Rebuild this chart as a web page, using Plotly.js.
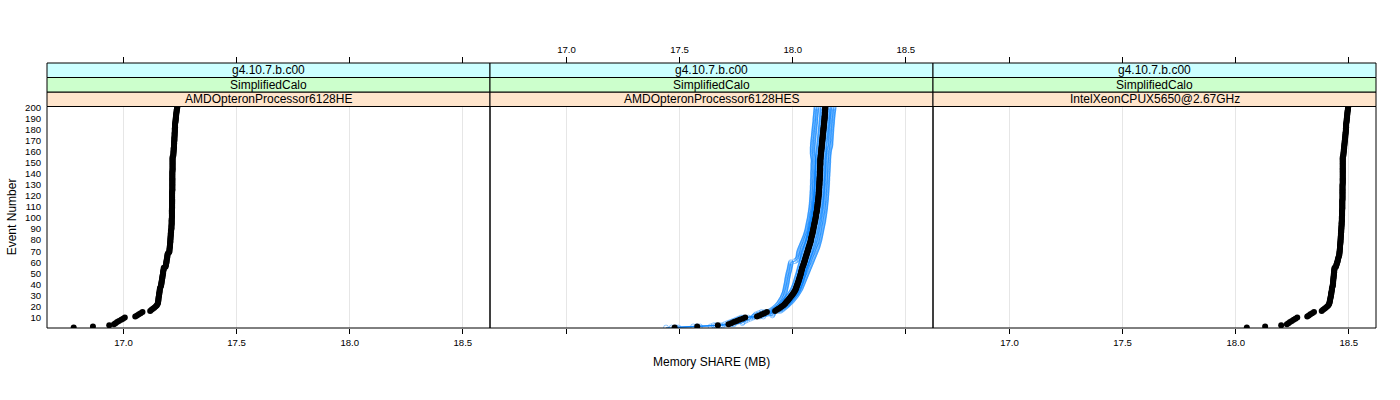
<!DOCTYPE html>
<html>
<head>
<meta charset="utf-8">
<script src="https://cdn.plot.ly/plotly-3.0.1.min.js"></script>
<style>html,body{margin:0;padding:0;background:#fff;}#chart{width:1400px;height:400px;}</style>
</head>
<body>
<div id="chart"></div>
<script>
// ---------- data ----------
const panelVersion = ["g4.10.7.b.c00", "g4.10.7.b.c00", "g4.10.7.b.c00"];
const panelConfig = ["SimplifiedCalo", "SimplifiedCalo", "SimplifiedCalo"];
const panelCpu = ["AMDOpteronProcessor6128HE", "AMDOpteronProcessor6128HES", "IntelXeonCPUX5650@2.67GHz"];
const xTickVals = [17.0, 17.5, 18.0, 18.5];
const xTickText = ["17.0", "17.5", "18.0", "18.5"];
const yTickVals = [10,20,30,40,50,60,70,80,90,100,110,120,130,140,150,160,170,180,190,200];

const events = Array.from({length: 200}, (_, i) => i + 1);

const memAmdHE = [
16.780,16.865,16.937,16.958,16.965,16.972,16.980,16.990,16.998,17.006,
17.052,17.060,17.068,17.076,17.084,17.118,17.124,17.130,17.136,17.142,
17.147,17.150,17.152,17.153,17.154,17.154,17.155,17.155,17.156,17.157,
17.158,17.158,17.159,17.160,17.160,17.161,17.162,17.165,17.166,17.167,
17.168,17.168,17.169,17.170,17.171,17.172,17.172,17.173,17.174,17.175,
17.175,17.176,17.177,17.178,17.178,17.186,17.187,17.188,17.189,17.190,
17.190,17.191,17.192,17.193,17.194,17.194,17.195,17.196,17.202,17.203,
17.203,17.204,17.204,17.205,17.205,17.206,17.206,17.207,17.207,17.207,
17.208,17.208,17.208,17.209,17.209,17.209,17.210,17.210,17.210,17.212,
17.212,17.212,17.212,17.213,17.213,17.213,17.213,17.213,17.213,17.214,
17.214,17.214,17.214,17.214,17.214,17.214,17.214,17.214,17.215,17.215,
17.215,17.215,17.215,17.215,17.215,17.215,17.215,17.215,17.215,17.215,
17.215,17.215,17.215,17.215,17.216,17.216,17.216,17.216,17.216,17.216,
17.216,17.216,17.216,17.216,17.216,17.216,17.216,17.216,17.216,17.216,
17.216,17.216,17.217,17.217,17.217,17.217,17.217,17.217,17.217,17.217,
17.217,17.217,17.217,17.217,17.217,17.220,17.220,17.221,17.221,17.221,
17.222,17.222,17.222,17.223,17.223,17.223,17.224,17.224,17.224,17.225,
17.225,17.225,17.225,17.226,17.226,17.226,17.226,17.227,17.227,17.227,
17.227,17.228,17.228,17.228,17.228,17.229,17.230,17.230,17.231,17.231,
17.232,17.232,17.233,17.233,17.234,17.235,17.235,17.236,17.237,17.238];

const memAmdHES = [
17.478,17.578,17.669,17.716,17.728,17.740,17.752,17.765,17.778,17.790,
17.842,17.853,17.864,17.875,17.886,17.922,17.930,17.937,17.944,17.951,
17.958,17.964,17.968,17.972,17.976,17.980,17.984,17.988,17.992,17.996,
18.000,18.003,18.006,18.009,18.012,18.014,18.016,18.017,18.019,18.021,
18.022,18.024,18.026,18.027,18.029,18.030,18.032,18.033,18.035,18.036,
18.037,18.038,18.040,18.041,18.042,18.044,18.046,18.048,18.049,18.051,
18.052,18.054,18.055,18.057,18.058,18.060,18.061,18.063,18.064,18.066,
18.067,18.069,18.070,18.072,18.073,18.075,18.076,18.078,18.079,18.080,
18.081,18.082,18.083,18.085,18.086,18.087,18.088,18.089,18.090,18.091,
18.092,18.093,18.094,18.095,18.096,18.097,18.098,18.099,18.100,18.101,
18.102,18.103,18.103,18.104,18.105,18.106,18.107,18.107,18.108,18.109,
18.109,18.110,18.110,18.111,18.112,18.112,18.113,18.113,18.114,18.114,
18.115,18.115,18.115,18.116,18.116,18.116,18.117,18.117,18.117,18.118,
18.118,18.118,18.118,18.119,18.119,18.119,18.119,18.120,18.120,18.120,
18.120,18.120,18.121,18.121,18.121,18.121,18.121,18.122,18.122,18.122,
18.122,18.122,18.122,18.123,18.123,18.124,18.124,18.125,18.125,18.126,
18.126,18.127,18.127,18.128,18.128,18.129,18.129,18.130,18.130,18.131,
18.131,18.132,18.132,18.133,18.133,18.134,18.134,18.135,18.135,18.136,
18.136,18.137,18.137,18.138,18.138,18.139,18.139,18.140,18.140,18.141,
18.141,18.141,18.142,18.142,18.142,18.143,18.143,18.143,18.144,18.144];

const memIntel = [
18.049,18.130,18.201,18.226,18.233,18.240,18.248,18.256,18.264,18.272,
18.316,18.323,18.330,18.338,18.346,18.380,18.386,18.392,18.398,18.404,
18.409,18.412,18.414,18.415,18.416,18.417,18.418,18.419,18.420,18.421,
18.422,18.422,18.423,18.424,18.425,18.425,18.426,18.428,18.429,18.429,
18.430,18.430,18.431,18.431,18.432,18.432,18.433,18.433,18.434,18.434,
18.435,18.435,18.436,18.436,18.437,18.443,18.444,18.446,18.447,18.449,
18.450,18.451,18.452,18.454,18.455,18.457,18.458,18.458,18.459,18.459,
18.460,18.460,18.461,18.461,18.461,18.462,18.462,18.463,18.463,18.463,
18.464,18.464,18.464,18.465,18.465,18.465,18.466,18.466,18.466,18.467,
18.467,18.467,18.468,18.468,18.468,18.468,18.469,18.469,18.469,18.469,
18.469,18.470,18.470,18.470,18.470,18.470,18.470,18.471,18.471,18.471,
18.471,18.471,18.471,18.471,18.471,18.471,18.472,18.472,18.472,18.472,
18.472,18.472,18.472,18.472,18.472,18.472,18.472,18.472,18.472,18.472,
18.473,18.473,18.473,18.473,18.473,18.473,18.473,18.473,18.473,18.473,
18.473,18.473,18.473,18.473,18.473,18.473,18.473,18.473,18.473,18.473,
18.473,18.473,18.473,18.473,18.473,18.475,18.476,18.476,18.477,18.477,
18.478,18.478,18.479,18.479,18.480,18.480,18.481,18.481,18.482,18.482,
18.483,18.483,18.484,18.484,18.485,18.485,18.486,18.486,18.487,18.487,
18.487,18.488,18.488,18.488,18.488,18.489,18.490,18.490,18.491,18.491,
18.492,18.492,18.493,18.493,18.494,18.494,18.495,18.496,18.496,18.497];

// other runs on AMDOpteronProcessor6128HES (blue)
const hesRun1 = [
17.440,17.560,17.650,17.700,17.712,17.724,17.736,17.748,17.760,17.772,
17.828,17.834,17.838,17.850,17.862,17.900,17.908,17.915,17.921,17.927,
17.932,17.936,17.940,17.943,17.946,17.949,17.952,17.955,17.957,17.959,
17.961,17.963,17.965,17.966,17.967,17.968,17.969,17.970,17.971,17.972,
17.973,17.974,17.975,17.975,17.976,17.977,17.978,17.979,17.980,17.981,
17.982,17.984,17.985,17.986,17.987,17.988,17.989,17.990,17.991,17.992,
18.010,18.018,18.022,18.024,18.025,18.026,18.026,18.027,18.028,18.029,
18.031,18.033,18.035,18.037,18.039,18.041,18.043,18.045,18.047,18.049,
18.051,18.053,18.055,18.057,18.058,18.060,18.061,18.063,18.064,18.065,
18.066,18.067,18.068,18.069,18.070,18.071,18.072,18.073,18.074,18.075,
18.076,18.077,18.077,18.078,18.079,18.080,18.080,18.081,18.082,18.082,
18.083,18.083,18.084,18.084,18.085,18.085,18.085,18.086,18.086,18.086,
18.087,18.087,18.087,18.087,18.088,18.088,18.088,18.088,18.088,18.089,
18.089,18.089,18.089,18.089,18.089,18.090,18.090,18.090,18.090,18.090,
18.090,18.090,18.091,18.091,18.091,18.091,18.091,18.091,18.091,18.092,
18.092,18.092,18.092,18.091,18.090,18.089,18.089,18.088,18.088,18.088,
18.088,18.088,18.088,18.088,18.089,18.089,18.089,18.090,18.090,18.091,
18.091,18.092,18.092,18.093,18.093,18.094,18.094,18.095,18.095,18.096,
18.096,18.097,18.097,18.098,18.098,18.099,18.100,18.100,18.100,18.100,
18.101,18.101,18.102,18.102,18.103,18.103,18.104,18.104,18.105,18.105];

const hesRun2 = [
17.495,17.637,17.690,17.740,17.777,17.780,17.790,17.800,17.812,17.824,
17.870,17.910,17.912,17.914,17.916,17.945,17.952,17.958,17.964,17.970,
17.976,17.981,17.986,17.991,17.996,18.000,18.004,18.008,18.012,18.016,
18.019,18.022,18.025,18.028,18.031,18.034,18.036,18.038,18.040,18.042,
18.044,18.046,18.048,18.050,18.052,18.054,18.056,18.058,18.060,18.062,
18.064,18.066,18.068,18.070,18.072,18.074,18.076,18.078,18.080,18.082,
18.084,18.086,18.088,18.090,18.092,18.094,18.096,18.098,18.100,18.102,
18.104,18.106,18.108,18.110,18.111,18.112,18.114,18.115,18.116,18.118,
18.119,18.120,18.121,18.122,18.123,18.124,18.125,18.126,18.127,18.128,
18.129,18.130,18.131,18.132,18.133,18.134,18.135,18.136,18.136,18.137,
18.138,18.139,18.139,18.140,18.141,18.141,18.142,18.143,18.143,18.144,
18.144,18.145,18.145,18.146,18.146,18.147,18.147,18.148,18.148,18.148,
18.149,18.149,18.149,18.150,18.150,18.150,18.151,18.151,18.151,18.152,
18.152,18.152,18.152,18.153,18.153,18.153,18.153,18.154,18.154,18.154,
18.154,18.155,18.155,18.155,18.155,18.156,18.156,18.156,18.156,18.157,
18.157,18.157,18.157,18.158,18.158,18.158,18.159,18.159,18.160,18.160,
18.161,18.162,18.163,18.165,18.166,18.167,18.167,18.167,18.167,18.168,
18.168,18.168,18.169,18.169,18.169,18.170,18.170,18.170,18.171,18.171,
18.171,18.172,18.172,18.173,18.173,18.174,18.174,18.174,18.175,18.175,
18.176,18.176,18.177,18.177,18.178,18.178,18.179,18.180,18.180,18.181];

const hesRun3 = [
17.465,17.575,17.660,17.721,17.721,17.733,17.745,17.757,17.770,17.782,
17.830,17.842,17.853,17.865,17.876,17.910,17.918,17.925,17.932,17.939,
17.946,17.952,17.956,17.960,17.964,17.968,17.972,17.976,17.980,17.984,
17.988,17.991,17.994,17.997,18.000,18.002,18.004,18.006,18.008,18.010,
18.011,18.013,18.014,18.016,18.017,18.019,18.020,18.022,18.023,18.025,
18.026,18.027,18.029,18.030,18.031,18.033,18.034,18.036,18.037,18.039,
18.040,18.042,18.043,18.045,18.046,18.048,18.049,18.051,18.052,18.054,
18.055,18.057,18.058,18.060,18.061,18.063,18.064,18.066,18.067,18.068,
18.069,18.070,18.071,18.073,18.074,18.075,18.076,18.077,18.078,18.079,
18.080,18.081,18.082,18.083,18.084,18.085,18.086,18.087,18.088,18.089,
18.090,18.091,18.091,18.092,18.093,18.094,18.095,18.095,18.096,18.097,
18.097,18.098,18.098,18.099,18.100,18.100,18.101,18.101,18.102,18.102,
18.103,18.103,18.103,18.104,18.104,18.104,18.105,18.105,18.105,18.106,
18.106,18.106,18.106,18.107,18.107,18.107,18.107,18.108,18.108,18.108,
18.108,18.108,18.109,18.109,18.109,18.109,18.109,18.110,18.110,18.110,
18.110,18.110,18.110,18.111,18.111,18.112,18.112,18.113,18.113,18.114,
18.114,18.115,18.115,18.116,18.116,18.117,18.117,18.118,18.118,18.119,
18.119,18.120,18.120,18.121,18.121,18.122,18.122,18.123,18.123,18.124,
18.124,18.125,18.125,18.126,18.126,18.127,18.127,18.128,18.128,18.129,
18.129,18.129,18.130,18.130,18.130,18.131,18.131,18.131,18.132,18.132];

const hesRun4 = [
17.485,17.590,17.680,17.730,17.742,17.754,17.766,17.779,17.792,17.804,
17.855,17.866,17.877,17.888,17.899,17.934,17.942,17.949,17.956,17.963,
17.970,17.976,17.980,17.984,17.988,17.992,17.996,18.000,18.004,18.008,
18.012,18.015,18.018,18.021,18.024,18.026,18.028,18.029,18.031,18.033,
18.034,18.036,18.038,18.039,18.041,18.042,18.044,18.045,18.047,18.048,
18.049,18.050,18.052,18.053,18.054,18.056,18.058,18.060,18.061,18.063,
18.064,18.066,18.067,18.069,18.070,18.072,18.073,18.075,18.076,18.078,
18.079,18.081,18.082,18.084,18.085,18.087,18.088,18.090,18.091,18.092,
18.093,18.094,18.095,18.097,18.098,18.099,18.100,18.101,18.102,18.103,
18.104,18.105,18.106,18.107,18.108,18.109,18.110,18.111,18.112,18.113,
18.114,18.115,18.115,18.116,18.117,18.118,18.119,18.119,18.120,18.121,
18.121,18.122,18.122,18.123,18.124,18.124,18.125,18.125,18.126,18.126,
18.127,18.127,18.127,18.128,18.128,18.128,18.129,18.129,18.129,18.130,
18.130,18.130,18.130,18.131,18.131,18.131,18.131,18.132,18.132,18.132,
18.132,18.132,18.133,18.133,18.133,18.133,18.133,18.134,18.134,18.134,
18.134,18.134,18.134,18.135,18.135,18.136,18.136,18.137,18.137,18.138,
18.138,18.139,18.139,18.140,18.140,18.141,18.141,18.142,18.142,18.143,
18.143,18.144,18.144,18.145,18.145,18.146,18.146,18.147,18.147,18.148,
18.148,18.149,18.149,18.150,18.150,18.151,18.151,18.152,18.152,18.153,
18.153,18.153,18.154,18.154,18.154,18.155,18.155,18.155,18.156,18.156];

// ---------- styling ----------
const FONT = "Liberation Sans, Arial, Helvetica, sans-serif";
const X_RANGE = [16.662, 18.620];
const Y_RANGE = [0.6, 200.7];
const PLOT_TOP = 0.8358;        // top of the data region (paper)
const STRIP_H = (1 - PLOT_TOP) / 3;
const stripColors = ["#FFE5CC", "#CCFFCC", "#CCFFFF"];
const domains = [[0, 1/3], [1/3, 2/3], [2/3, 1]];

const traces = [];
[hesRun1, hesRun2, hesRun3, hesRun4].forEach(run => {
  traces.push({
    type: "scatter", mode: "lines+markers", x: run, y: events,
    xaxis: "x2", yaxis: "y",
    line: {color: "rgba(0,128,255,0.9)", width: 0.7},
    marker: {symbol: "circle-open", size: 5, color: "rgba(0,128,255,0.7)", line: {width: 0.6}},
    showlegend: false, hoverinfo: "skip"
  });
});
[[memAmdHE, "x"], [memAmdHES, "x2"], [memIntel, "x3"]].forEach(([vals, ax]) => {
  traces.push({
    type: "scatter", mode: "markers", x: vals, y: events,
    xaxis: ax, yaxis: "y",
    marker: {symbol: "circle", size: 6, color: "#000000"},
    showlegend: false, hoverinfo: "skip"
  });
});
// empty traces so the top axes get drawn
["x4", "x5", "x6"].forEach(ax => traces.push({type: "scatter", mode: "markers", x: [], y: [], xaxis: ax, yaxis: "y", showlegend: false}));

function bottomAxis(i, labels) {
  return {
    domain: domains[i], range: X_RANGE, anchor: "y",
    tickvals: xTickVals, ticktext: xTickText, showticklabels: labels,
    ticks: "outside", ticklen: 5, tickcolor: "#000", tickwidth: 1,
    showgrid: true, gridcolor: "#e6e6e6", gridwidth: 1,
    zeroline: false, showline: false,
    tickfont: {family: FONT, size: 9.6, color: "#000"}
  };
}
function topAxis(base, labels) {
  return {
    overlaying: base, side: "top", anchor: "free", position: 1, range: X_RANGE,
    tickvals: xTickVals, ticktext: xTickText, showticklabels: labels,
    ticks: "outside", ticklen: 6, tickcolor: "#000", tickwidth: 1,
    showgrid: false, zeroline: false, showline: false,
    tickfont: {family: FONT, size: 9.6, color: "#000"}
  };
}

const shapes = [];
const annotations = [];
const xrefs = ["x", "x2", "x3"];
xrefs.forEach((xr, i) => {
  shapes.push({type: "rect", xref: xr + " domain", yref: "y domain", x0: 0, x1: 1, y0: 0, y1: 1,
    line: {color: "#000", width: 1}, fillcolor: "rgba(0,0,0,0)"});
  const labels = [panelCpu[i], panelConfig[i], panelVersion[i]];
  for (let k = 0; k < 3; k++) {
    const y0 = PLOT_TOP + k * STRIP_H, y1 = PLOT_TOP + (k + 1) * STRIP_H;
    shapes.push({type: "rect", xref: xr + " domain", yref: "paper", x0: 0, x1: 1, y0: y0, y1: y1,
      line: {color: "#000", width: 1}, fillcolor: stripColors[k], layer: "below"});
    annotations.push({xref: xr + " domain", yref: "paper", x: 0.5, y: (y0 + y1) / 2,
      text: labels[k], showarrow: false, xanchor: "center", yanchor: "middle",
      font: {family: FONT, size: 12, color: "#000"}});
  }
});
annotations.push({xref: "paper", yref: "paper", x: 0.5, y: -0.128, text: "Memory SHARE (MB)",
  showarrow: false, xanchor: "center", yanchor: "middle", font: {family: FONT, size: 12, color: "#000"}});
annotations.push({xref: "paper", yref: "paper", x: -0.0263, y: PLOT_TOP / 2, text: "Event Number", textangle: -90,
  showarrow: false, xanchor: "center", yanchor: "middle", font: {family: FONT, size: 12, color: "#000"}});

const layout = {
  width: 1400, height: 400,
  margin: {l: 47, r: 24, t: 63, b: 72, pad: 0},
  paper_bgcolor: "#fff", plot_bgcolor: "#fff",
  showlegend: false, hovermode: false,
  font: {family: FONT, color: "#000"},
  xaxis: bottomAxis(0, true),
  xaxis2: bottomAxis(1, false),
  xaxis3: bottomAxis(2, true),
  xaxis4: topAxis("x", false),
  xaxis5: topAxis("x2", true),
  xaxis6: topAxis("x3", false),
  yaxis: {
    domain: [0, PLOT_TOP], range: Y_RANGE, anchor: "x",
    tickvals: yTickVals, ticks: "outside", ticklen: 3, tickcolor: "rgba(0,0,0,0)",
    showgrid: false, zeroline: false, showline: false,
    tickfont: {family: FONT, size: 9.6, color: "#000"}
  },
  shapes: shapes,
  annotations: annotations
};

Plotly.newPlot("chart", traces, layout, {displayModeBar: false, staticPlot: true});
</script>
</body>
</html>
